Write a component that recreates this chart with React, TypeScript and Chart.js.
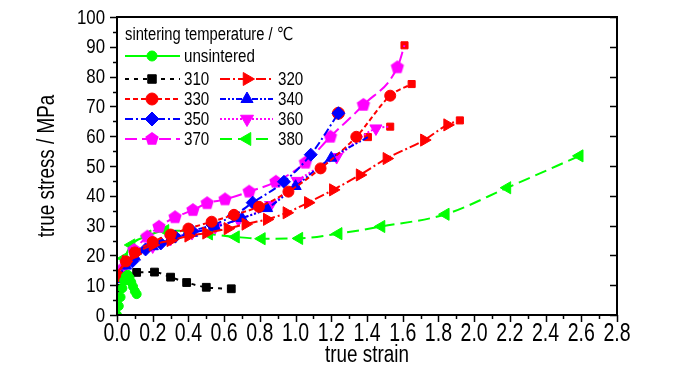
import React, { useEffect, useRef } from 'react';
import { Chart, registerables } from 'chart.js';
import { drawPoint } from 'chart.js/helpers';

Chart.register(...registerables);

// ---------------- data ----------------
const strainUnsintered = [0, 0.01, 0.02, 0.03, 0.04, 0.05, 0.06, 0.07, 0.08, 0.09, 0.1, 0.11];
const stressUnsintered = [0, 3, 6, 9, 11.5, 13, 13.5, 12.5, 11, 9.5, 8, 7];

const strain310 = [0.01, 0.11, 0.21, 0.3, 0.39, 0.5, 0.64];
const stress310 = [9, 14.3, 14.4, 12.7, 10.9, 9.3, 8.8];

const strain320 = [0.0, 0.05, 0.1, 0.2, 0.3, 0.4, 0.5, 0.62, 0.72, 0.84, 0.95, 1.07, 1.21, 1.36, 1.51, 1.72, 1.85];
const stress320 = [14, 18, 20.5, 23.5, 25, 26.5, 27.5, 29, 30.5, 32.1, 34.3, 37.7, 42, 47, 52.5, 58.7, 63.8];

const strain330 = [0.0, 0.05, 0.1, 0.2, 0.3, 0.4, 0.53, 0.655, 0.795, 0.96, 1.14, 1.34, 1.53];
const stress330 = [13, 18, 21, 24.5, 27, 29, 31.3, 33.6, 36.3, 41.4, 49.2, 59.8, 73.6];

const strain340 = [0.0, 0.05, 0.1, 0.2, 0.3, 0.42, 0.55, 0.7, 0.84, 1.0, 1.2];
const stress340 = [12, 16.5, 19.5, 23, 25.5, 27.5, 29.5, 32.5, 35.8, 43.2, 52.7];

const strain350 = [0.0, 0.086, 0.16, 0.245, 0.325, 0.42, 0.535, 0.655, 0.76, 0.935, 1.085, 1.24];
const stress350 = [13, 18, 22, 24, 26.3, 28.2, 30.2, 33.4, 37.7, 44.7, 53.8, 67.7];

const strain360 = [0.0, 0.05, 0.1, 0.2, 0.3, 0.42, 0.55, 0.68, 0.86, 1.01, 1.23, 1.45];
const stress360 = [14, 17, 20, 23, 25.5, 27.5, 29.5, 32, 36.9, 45, 53, 62.6];

const strain370 = [0.02, 0.095, 0.17, 0.235, 0.325, 0.425, 0.505, 0.605, 0.74, 0.89, 1.055, 1.195, 1.38, 1.57];
const stress370 = [15, 21.8, 26.3, 29.6, 32.8, 35.2, 37.5, 38.8, 41.4, 44.7, 51.1, 59.8, 70.5, 83.1];

const strain380 = [0.0, 0.04, 0.08, 0.17, 0.27, 0.4, 0.515, 0.665, 0.81, 1.02, 1.24, 1.48, 1.84, 2.185, 2.59];
const stress380 = [14, 19, 23.5, 26.5, 28.3, 28.3, 27.2, 26.2, 25.6, 25.7, 27.3, 29.7, 33.8, 42.7, 53.4];

// fracture (end) points: 370, 330, 360, 340, 320, 350
const fractureStrain = [1.61, 1.65, 1.53, 1.405, 1.92, 1.24];
const fractureStress = [90.5, 77.5, 63.2, 59.7, 65.3, 67.7];

const xTickMax = 2.8;
const yTickMax = 100;

const legendTitle = 'sintering temperature / ℃';
const xTitle = 'true strain';
const yTitle = 'true stress / MPa';

// ---------------- styles ----------------
const FONT = "'Liberation Sans', Arial, 'DejaVu Sans', 'Noto Sans CJK SC', sans-serif";
const GREEN = '#00ff00';
const RED = '#ff0000';
const BLUE = '#0000ff';
const MAG = '#ff00ff';

function makePentagon(color: string, r: number) {
  const c = document.createElement('canvas');
  const s = Math.ceil(r * 2 + 2);
  c.width = s;
  c.height = s;
  const g = c.getContext('2d')!;
  g.fillStyle = color;
  g.beginPath();
  for (let i = 0; i < 5; i++) {
    const a = -Math.PI / 2 + (i * 2 * Math.PI) / 5;
    const px = s / 2 + r * Math.cos(a);
    const py = s / 2 + r * Math.sin(a);
    if (i === 0) g.moveTo(px, py);
    else g.lineTo(px, py);
  }
  g.closePath();
  g.fill();
  return c;
}

// condensed text (emulates Arial Narrow by horizontal scaling)
function narrowText(ctx: CanvasRenderingContext2D, text: string, x: number, y: number, size: number, align: CanvasTextAlign, sx: number, rot = 0) {
  ctx.save();
  ctx.translate(x, y);
  if (rot) ctx.rotate(rot);
  ctx.scale(sx, 1);
  ctx.font = `${size}px ${FONT}`;
  ctx.textAlign = align;
  ctx.textBaseline = 'middle';
  ctx.fillStyle = '#000';
  ctx.fillText(text, 0, 0);
  ctx.restore();
}

export default function App() {
  const ref = useRef<HTMLCanvasElement | null>(null);

  useEffect(() => {
    document.body.style.margin = '0';
    const canvas = ref.current;
    if (!canvas) return;
    const pentagon = makePentagon(MAG, 7);

    const defs: any[] = [
      { label: 'unsintered', xs: strainUnsintered, ys: stressUnsintered, color: GREEN, dash: [], style: 'circle', rot: 0, r: 4.5, end: -1 },
      { label: '310', xs: strain310, ys: stress310, color: '#000000', dash: [4, 5], style: 'rect', rot: 0, r: 5.5, end: -1 },
      { label: '320', xs: strain320, ys: stress320, color: RED, dash: [10, 3, 2, 3], style: 'triangle', rot: 90, r: 7, end: 4 },
      { label: '330', xs: strain330, ys: stress330, color: RED, dash: [5, 3], style: 'circle', rot: 0, r: 5.5, end: 1 },
      { label: '340', xs: strain340, ys: stress340, color: BLUE, dash: [6, 2, 2, 2, 2, 2], style: 'triangle', rot: 0, r: 6.5, end: 3 },
      { label: '350', xs: strain350, ys: stress350, color: BLUE, dash: [8, 3, 2, 3], style: 'rectRot', rot: 0, r: 6.5, end: -1 },
      { label: '360', xs: strain360, ys: stress360, color: MAG, dash: [2, 2], style: 'triangle', rot: 180, r: 7, end: 2 },
      { label: '370', xs: strain370, ys: stress370, color: MAG, dash: [12, 5], style: pentagon, rot: 0, r: 7, end: 0 },
      { label: '380', xs: strain380, ys: stress380, color: GREEN, dash: [12, 6], style: 'triangle', rot: 270, r: 7, end: -1 },
    ];

    const datasets: any[] = defs.map((d) => {
      const pts = d.xs.map((x: number, i: number) => ({ x, y: d.ys[i] }));
      const radii = pts.map(() => d.r);
      if (d.end >= 0) {
        pts.push({ x: fractureStrain[d.end], y: fractureStress[d.end] });
        radii.push(0);
      }
      return {
        label: d.label,
        data: pts,
        borderColor: d.color,
        backgroundColor: d.color,
        borderWidth: 2,
        borderDash: d.dash,
        pointStyle: d.style,
        rotation: d.rot,
        pointRadius: radii,
        pointHoverRadius: radii,
        pointBorderWidth: 1,
        pointBackgroundColor: d.color,
        pointBorderColor: d.color,
        cubicInterpolationMode: 'monotone',
        fill: false,
      };
    });

    datasets.push({
      label: 'fracture',
      data: fractureStrain.map((x, i) => ({ x, y: fractureStress[i] })),
      showLine: false,
      pointStyle: fractureStrain.map((_, i) => (i === 5 ? 'circle' : 'rect')),
      pointRadius: fractureStrain.map((_, i) => (i === 5 ? 6 : 5)),
      pointBackgroundColor: RED,
      pointBorderColor: RED,
      pointBorderWidth: 1,
    });

    const framePlugin = {
      id: 'frame',
      afterDatasetsDraw(chart: any) {
        const { ctx, chartArea: ca, scales } = chart;
        const xs = scales.x;
        const ys = scales.y;
        ctx.save();
        ctx.strokeStyle = '#000';
        ctx.lineWidth = 2;
        ctx.setLineDash([]);
        ctx.strokeRect(ca.left, ca.top, ca.right - ca.left, ca.bottom - ca.top);
        ctx.lineWidth = 1.5;
        ctx.beginPath();
        for (let k = 0; k <= Math.round(xTickMax * 10); k++) {
          const px = Math.round(xs.getPixelForValue(k / 10)) + 0.5;
          const len = k % 2 === 0 ? 7 : 4;
          ctx.moveTo(px, ca.bottom);
          ctx.lineTo(px, ca.bottom + len);
        }
        for (let k = 0; k <= yTickMax / 5; k++) {
          const py = Math.round(ys.getPixelForValue(k * 5)) + 0.5;
          const len = k % 2 === 0 ? 7 : 4;
          ctx.moveTo(ca.left, py);
          ctx.lineTo(ca.left - len, py);
          if (k % 2 === 0) {
            ctx.moveTo(ca.right, py);
            ctx.lineTo(ca.right - 7, py);
          }
        }
        ctx.stroke();

        // tick labels from the library's ticks
        xs.ticks.forEach((t: any) => {
          narrowText(ctx, Number(t.value).toFixed(1), xs.getPixelForValue(t.value), ca.bottom + 19, 25, 'center', 0.78);
        });
        ys.ticks.forEach((t: any) => {
          narrowText(ctx, String(t.value), ca.left - 12, ys.getPixelForValue(t.value) + 1, 20.5, 'right', 0.82);
        });
        // axis titles
        narrowText(ctx, xTitle, (ca.left + ca.right) / 2, 356, 23, 'center', 0.82);
        narrowText(ctx, yTitle, 48, (ca.top + ca.bottom) / 2, 23, 'center', 0.82, -Math.PI / 2);

        // legend
        narrowText(ctx, legendTitle, 125, 35, 18, 'left', 0.82);
        const rows = [56, 79, 99, 119, 139];
        const cols = [{ l: 125, r: 180, m: 152, t: 184 }, { l: 220, r: 273, m: 247, t: 278 }];
        const layout = [[0, 0], [1, 0], [1, 1], [2, 0], [2, 1], [3, 0], [3, 1], [4, 0], [4, 1]];
        defs.forEach((d, i) => {
          const [row, col] = layout[i];
          const y = rows[row];
          const c = cols[col];
          ctx.strokeStyle = d.color;
          ctx.lineWidth = 2;
          ctx.setLineDash(d.dash);
          ctx.beginPath();
          ctx.moveTo(c.l, y);
          ctx.lineTo(c.r, y);
          ctx.stroke();
          ctx.setLineDash([]);
          ctx.fillStyle = d.color;
          ctx.strokeStyle = d.color;
          ctx.lineWidth = 1;
          drawPoint(ctx, { pointStyle: d.style, rotation: d.rot, radius: d.r + 0.5, borderWidth: 1 } as any, c.m, y);
          narrowText(ctx, d.label, c.t, y + 1, 18.5, 'left', 0.82);
        });
        ctx.restore();
      },
    };

    const chart = new Chart(canvas, {
      type: 'line',
      data: { datasets },
      options: {
        responsive: false,
        animation: false,
        devicePixelRatio: 1,
        layout: { padding: { top: 17, right: 83, left: 0, bottom: 0 } },
        plugins: { legend: { display: false }, tooltip: { enabled: false } },
        scales: {
          x: {
            type: 'linear',
            min: 0,
            max: xTickMax,
            grid: { display: false, drawTicks: false },
            border: { display: false },
            ticks: { stepSize: 0.2, display: false, autoSkip: false },
            afterFit: (s: any) => {
              s.height = 59;
            },
          },
          y: {
            type: 'linear',
            min: 0,
            max: yTickMax,
            grid: { display: false, drawTicks: false },
            border: { display: false },
            ticks: { stepSize: 10, display: false, autoSkip: false },
            afterFit: (s: any) => {
              s.width = 117;
            },
          },
        },
      } as any,
      plugins: [framePlugin],
    });

    return () => chart.destroy();
  }, []);

  return (
    <div style={{ width: 700, height: 374 }}>
      <canvas ref={ref} width={700} height={374} style={{ display: 'block', width: 700, height: 374 }} />
    </div>
  );
}
